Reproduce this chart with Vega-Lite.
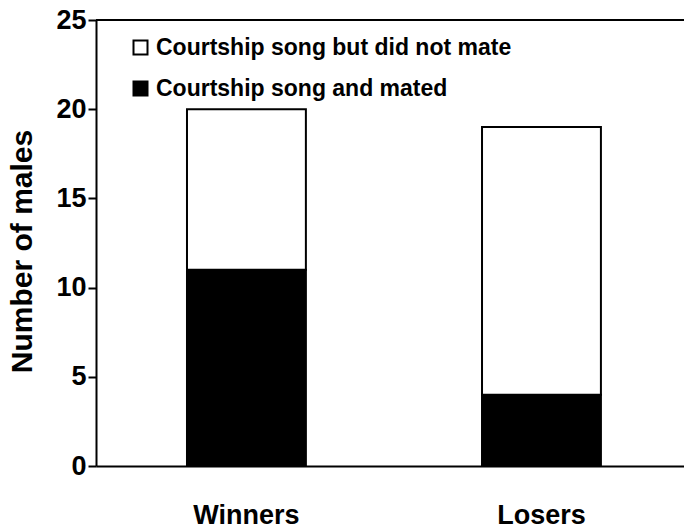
{
  "$schema": "https://vega.github.io/schema/vega-lite/v6.json",
  "width": 588,
  "height": 446,
  "autosize": {"type": "none"},
  "padding": {"left": 96, "top": 20, "right": 0, "bottom": 65},
  "background": "white",
  "config": {
    "view": {"stroke": null},
    "font": "Liberation Sans"
  },
  "data": {
    "values": [
      {"group": "Winners", "status": "Courtship song and mated", "count": 11},
      {"group": "Winners", "status": "Courtship song but did not mate", "count": 9},
      {"group": "Losers", "status": "Courtship song and mated", "count": 4},
      {"group": "Losers", "status": "Courtship song but did not mate", "count": 15}
    ]
  },
  "layer": [
    {
      "mark": {"type": "bar", "stroke": "black", "strokeWidth": 2},
      "encoding": {
        "x": {
          "field": "group",
          "type": "nominal",
          "sort": ["Winners", "Losers"],
          "scale": {"paddingInner": 0.597, "paddingOuter": 0.295, "align": 0.5227},
          "axis": {
            "title": null,
            "labelAngle": 0,
            "ticks": false,
            "labelPadding": 36,
            "labelFontSize": 27,
            "labelFontWeight": "bold",
            "labelColor": "black",
            "domainColor": "black",
            "domainWidth": 2
          }
        },
        "y": {
          "field": "count",
          "type": "quantitative",
          "stack": "zero",
          "scale": {"domain": [0, 25], "nice": false},
          "axis": {
            "title": "Number of males",
            "values": [0, 5, 10, 15, 20, 25],
            "grid": false,
            "tickSize": 8,
            "tickWidth": 2,
            "tickColor": "black",
            "domainColor": "black",
            "domainWidth": 2,
            "labelPadding": 2,
            "labelFontSize": 27,
            "labelFontWeight": "bold",
            "labelColor": "black",
            "titleFontSize": 30,
            "titleFontWeight": "bold",
            "titleColor": "black",
            "titleX": -74,
            "titleY": 231,
            "titleBaseline": "middle"
          }
        },
        "color": {
          "field": "status",
          "type": "nominal",
          "scale": {
            "domain": ["Courtship song but did not mate", "Courtship song and mated"],
            "range": ["white", "black"]
          },
          "legend": {
            "title": null,
            "orient": "none",
            "legendX": 33,
            "legendY": 16,
            "symbolType": "square",
            "symbolSize": 196,
            "symbolStrokeColor": "black",
            "symbolStrokeWidth": 2,
            "labelFontSize": 23,
            "labelFontWeight": "bold",
            "labelColor": "black",
            "labelOffset": 4,
            "rowPadding": 17,
            "labelLimit": 500
          }
        },
        "order": {"field": "status", "sort": "ascending"}
      }
    },
    {
      "mark": {"type": "rule", "color": "black", "strokeWidth": 2},
      "encoding": {"y": {"datum": 25}}
    }
  ]
}
